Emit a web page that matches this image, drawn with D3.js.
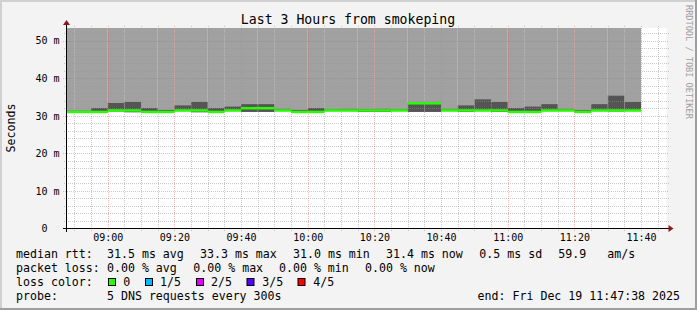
<!DOCTYPE html>
<html>
<head>
<meta charset="utf-8">
<script src="https://cdn.jsdelivr.net/npm/d3@7"></script>
<style>
  html, body { margin: 0; padding: 0; background: #f3f3f3; }
  svg { display: block; }
  text { font-family: "DejaVu Sans Mono", monospace; fill: #000; }
</style>
</head>
<body>
<svg id="chart" width="697" height="310"></svg>
<script>
// ---------------- data ----------------
const titleText = "Last 3 Hours from smokeping";
const startTime = "08:47:38";
const endTime = "11:47:38";
const stepEnds = ["08:50","08:55","09:00","09:05","09:10","09:15","09:20","09:25","09:30","09:35",
  "09:40","09:45","09:50","09:55","10:00","10:05","10:10","10:15","10:20","10:25",
  "10:30","10:35","10:40","10:45","10:50","10:55","11:00","11:05","11:10","11:15",
  "11:20","11:25","11:30","11:35","11:40"];
const medianRtt = [31.0,31.0,31.0,31.4,31.4,31.0,31.0,31.4,31.4,31.0,
  31.4,32.0,32.0,31.4,31.0,31.0,31.4,31.4,31.4,31.4,
  31.4,33.3,33.3,31.4,31.4,31.4,31.4,31.0,31.0,31.4,
  31.4,31.0,31.4,31.4,31.4];
const smokeHigh = [31.4,31.4,32.1,33.4,33.7,32.1,31.6,32.8,33.7,32.1,
  32.5,33.1,33.1,31.9,31.6,32.1,31.8,31.9,31.8,31.9,
  31.8,33.5,33.5,31.9,32.8,34.4,33.7,32.1,32.5,33.1,
  31.9,31.5,33.1,35.4,33.7];
const smokeLow = [30.9,30.9,30.9,31.1,30.9,30.9,30.9,31.2,30.9,30.9,
  31.2,31.0,31.0,31.2,30.9,30.9,31.2,31.2,31.0,31.0,
  31.2,31.0,31.0,31.2,31.0,31.2,31.0,30.9,30.9,31.2,
  31.2,30.9,31.2,31.1,31.2];
const yMajorTicks = [0, 10, 20, 30, 40, 50];
const yMax = 53.2;
const stepMinutes = 5;

const statsRtt = [["median rtt:",16],["31.5 ms avg",107],["33.3 ms max",200],["31.0 ms min",293],
  ["31.4 ms now",386],["0.5 ms sd",479.3],["59.9",558.3],["am/s",607.3]];
const statsLoss = [["packet loss:",16],["0.00 % avg",107],["0.00 % max",193.3],["0.00 % min",279],["0.00 % now",365]];
const lossLabels = ["0","1/5","2/5","3/5","4/5"];
const lossColors = ["#26ff00","#00b8ff","#dd00ff","#5500ff","#ff0000"];
const probeText = "5 DNS requests every 300s";
const endText = "end: Fri Dec 19 11:47:38 2025";

(function () {
const t = s => { const p = s.split(":").map(Number); return new Date(Date.UTC(2025, 11, 19, p[0], p[1], p[2] || 0)); };
const svg = d3.select("#chart");
const W = 697, H = 310;
const pL = 66.5, pR = 666.5, pT = 28.5, pB = 228.5;

const x = d3.scaleUtc().domain([t(startTime), t(endTime)]).range([pL, pR]);
const y = d3.scaleLinear().domain([0, yMax]).range([pB, pT]);

// background and frame
svg.append("rect").attr("width", W).attr("height", H).attr("fill", "#f3f3f3");
svg.append("rect").attr("x", 0).attr("y", 0).attr("width", W).attr("height", 2).attr("fill", "#d0d0d0");
svg.append("rect").attr("x", 0).attr("y", 0).attr("width", 2).attr("height", H).attr("fill", "#d0d0d0");
svg.append("rect").attr("x", 0).attr("y", H - 2).attr("width", W).attr("height", 2).attr("fill", "#9e9e9e");
svg.append("rect").attr("x", W - 2).attr("y", 0).attr("width", 2).attr("height", H).attr("fill", "#9e9e9e");

// plot area
svg.append("rect").attr("x", pL).attr("y", pT - 0.5).attr("width", pR - pL).attr("height", pB - pT + 0.5).attr("fill", "#ffffff");

// data
const steps = stepEnds.map((s, i) => {
  const e = t(s + ":00");
  const b = new Date(Math.max(+e - stepMinutes * 60000, +t(startTime)));
  return { b, e, med: medianRtt[i], lo: smokeLow[i], hi: smokeHigh[i] };
});

const g = svg.append("g");
g.selectAll("rect.light").data(steps).join("rect").attr("class", "light")
  .attr("x", d => x(d.b)).attr("width", d => x(d.e) - x(d.b))
  .attr("y", pT - 0.5).attr("height", d => y(d.hi) - (pT - 0.5))
  .attr("fill", "#a1a1a1");
g.selectAll("rect.dark").data(steps).join("rect").attr("class", "dark")
  .attr("x", d => x(d.b)).attr("width", d => x(d.e) - x(d.b))
  .attr("y", d => y(d.hi)).attr("height", d => y(d.lo) - y(d.hi))
  .attr("fill", "#555555");

// grid
const minorX = d3.utcMinute.every(5).range(t(startTime), t(endTime));
const majorX = d3.utcMinute.every(20).range(t(startTime), t(endTime));
const isMajorX = d => d.getUTCMinutes() % 20 === 0;
const gg = svg.append("g").attr("shape-rendering", "crispEdges");
gg.selectAll("line.vmin").data(minorX.filter(d => !isMajorX(d))).join("line")
  .attr("x1", d => Math.round(x(d)) + 0.5).attr("x2", d => Math.round(x(d)) + 0.5)
  .attr("y1", pT - 2.5).attr("y2", pB + 2)
  .attr("stroke", "rgba(150,150,150,0.5)").attr("stroke-dasharray", "1,1");
const minorY = d3.range(2, yMax, 2).filter(v => v % 10 !== 0);
gg.selectAll("line.hmin").data(minorY).join("line")
  .attr("x1", pL - 2.5).attr("x2", pR + 2.5)
  .attr("y1", d => Math.round(y(d)) + 0.5).attr("y2", d => Math.round(y(d)) + 0.5)
  .attr("stroke", "rgba(150,150,150,0.5)").attr("stroke-dasharray", "1,1");
gg.selectAll("line.vmaj").data(majorX).join("line")
  .attr("x1", d => Math.round(x(d)) + 0.5).attr("x2", d => Math.round(x(d)) + 0.5)
  .attr("y1", pT - 2.5).attr("y2", pB + 2)
  .attr("stroke", "rgba(240,80,80,0.42)").attr("stroke-dasharray", "1,1");
gg.selectAll("line.hmaj").data(yMajorTicks.filter(v => v > 0)).join("line")
  .attr("x1", pL - 3.5).attr("x2", pR + 2.5)
  .attr("y1", d => Math.round(y(d)) + 0.5).attr("y2", d => Math.round(y(d)) + 0.5)
  .attr("stroke", "rgba(240,80,80,0.42)").attr("stroke-dasharray", "1,1");

// median lines
svg.append("g").selectAll("line.med").data(steps).join("line")
  .attr("x1", d => x(d.b)).attr("x2", d => x(d.e))
  .attr("y1", d => y(d.med)).attr("y2", d => y(d.med))
  .attr("stroke", lossColors[0]).attr("stroke-width", 2.5);

// axes
const ax = svg.append("g").attr("shape-rendering", "crispEdges");
ax.append("line").attr("x1", pL - 3.5).attr("x2", pR + 3).attr("y1", pB).attr("y2", pB).attr("stroke", "#000");
ax.append("line").attr("x1", pL).attr("x2", pL).attr("y1", pB + 3).attr("y2", pT - 4).attr("stroke", "#000");
svg.append("path").attr("d", `M${pR + 2},${pB - 3.5}L${pR + 7},${pB}L${pR + 2},${pB + 3.5}Z`).attr("fill", "#8b1a1a");
svg.append("path").attr("d", `M${pL - 3.5},${pT - 3.5}L${pL},${pT - 8.5}L${pL + 3.5},${pT - 3.5}Z`).attr("fill", "#8b1a1a");

// x tick labels via d3 axis
const xAxis = d3.axisBottom(x).tickValues(majorX).tickFormat(d3.utcFormat("%H:%M")).tickSize(0).tickPadding(0);
const xg = svg.append("g").attr("transform", `translate(0,${pB})`).call(xAxis);
xg.select(".domain").remove();
xg.selectAll("text").attr("y", 12).attr("dy", 0).attr("font-size", "10px")
  .attr("font-family", "DejaVu Sans Mono").attr("fill", "#000");

// y tick labels
const yAxis = d3.axisLeft(y).tickValues(yMajorTicks).tickFormat(v => v === 0 ? "0" : v + " m").tickSize(0).tickPadding(0);
const yg = svg.append("g").attr("transform", `translate(59.5,0)`).call(yAxis);
yg.select(".domain").remove();
yg.selectAll("text").attr("x", 0).attr("dy", "0.33em").attr("font-size", "10px")
  .attr("font-family", "DejaVu Sans Mono").attr("fill", "#000");
yg.selectAll(".tick").filter(d => d === 0).select("text").attr("x", -12);

// title
svg.append("text").attr("x", 348).attr("y", 24).attr("text-anchor", "middle").attr("font-size", "13.2px").text(titleText);

// y label
svg.append("text").attr("transform", "translate(15,128) rotate(-90)").attr("text-anchor", "middle")
  .attr("font-size", "11.6px").text("Seconds");

// watermark
svg.append("text").attr("transform", "translate(685.5,5) rotate(90)").attr("font-size", "8.6px")
  .style("fill", "#a0a0a0").text("RRDTOOL / TOBI OETIKER");

// legend
const lf = "11.6px";
statsRtt.forEach(([s, px]) => svg.append("text").attr("x", px).attr("y", 258).attr("font-size", lf).text(s));
statsLoss.forEach(([s, px]) => svg.append("text").attr("x", px).attr("y", 272).attr("font-size", lf).text(s));
svg.append("text").attr("x", 16).attr("y", 286).attr("font-size", lf).text("loss color:");
const boxX = [108.5, 145.5, 196.5, 247, 298];
const labX = [123.3, 160, 211, 262.3, 313.3];
lossLabels.forEach((l, i) => {
  svg.append("rect").attr("x", boxX[i]).attr("y", 278.5).attr("width", 7).attr("height", 7)
    .attr("fill", lossColors[i]).attr("stroke", "#000").attr("stroke-width", 1);
  svg.append("text").attr("x", labX[i]).attr("y", 286).attr("font-size", lf).text(l);
});
svg.append("text").attr("x", 16).attr("y", 300).attr("font-size", lf).text("probe:");
svg.append("text").attr("x", 107).attr("y", 300).attr("font-size", lf).text(probeText);
svg.append("text").attr("x", 680).attr("y", 300).attr("text-anchor", "end").attr("font-size", lf).text(endText);
})();
</script>
</body>
</html>
